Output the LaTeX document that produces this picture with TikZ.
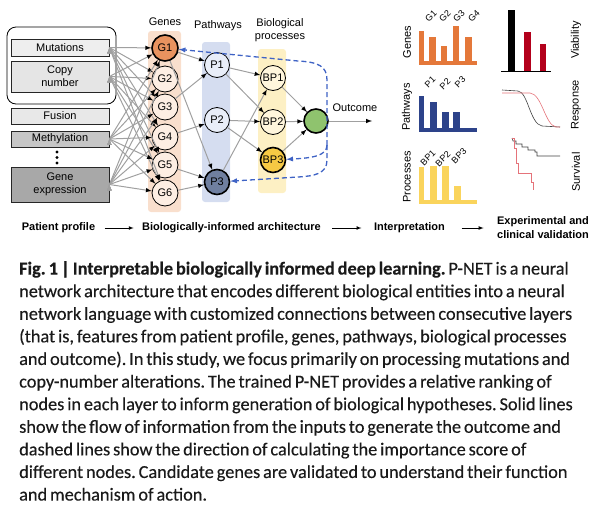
\documentclass[tikz,border=0pt]{standalone}
\usepackage{fontspec}
\setmainfont{Liberation Sans}
\newfontfamily\capfont[WordSpace=0.7,FakeBold=0.3]{Carlito}
\frenchspacing
\definecolor{genebg}{HTML}{F9DFCD}
\definecolor{genefill}{HTML}{FDEEE3}
\definecolor{gonefill}{HTML}{E9935F}
\definecolor{pwaybg}{HTML}{D5DDF0}
\definecolor{pwayfill}{HTML}{E8EDF8}
\definecolor{pthreefill}{HTML}{6F7FA0}
\definecolor{procbg}{HTML}{FDF0C4}
\definecolor{procfill}{HTML}{FFF6DC}
\definecolor{bpthreefill}{HTML}{F6C944}
\definecolor{outfill}{HTML}{8FC36E}
\definecolor{flowgray}{HTML}{A0A0A0}
\definecolor{impblue}{HTML}{3F63C5}
\definecolor{mutfill}{HTML}{EEEEEE}
\definecolor{cnvfill}{HTML}{E5E5E5}
\definecolor{fusfill}{HTML}{E8E8E8}
\definecolor{metfill}{HTML}{C6C6C6}
\definecolor{gexfill}{HTML}{A8A8A8}
\definecolor{orangebar}{HTML}{E4783A}
\definecolor{navybar}{HTML}{2D438A}
\definecolor{yellowbar}{HTML}{FAD45C}
\definecolor{vired}{HTML}{B3001B}
\definecolor{resred}{HTML}{E5737A}
\definecolor{capblack}{HTML}{1A1A1A}

\begin{document}
\begin{tikzpicture}[x=1pt,y=-1pt,every path/.style={>=latex},
  every node/.style={font=\fontsize{11}{13}\selectfont},
  inbox/.style={draw=black!85,line width=0.8pt,minimum width=98pt,align=center,inner sep=0pt},
  gene/.style={circle,draw,line width=0.8pt,minimum size=26pt,inner sep=0pt,fill=genefill},
  pway/.style={circle,draw,line width=0.8pt,minimum size=25pt,inner sep=0pt,fill=pwayfill},
  proc/.style={circle,draw,line width=0.8pt,minimum size=25pt,inner sep=0pt,fill=procfill},
  hot/.style={line width=1.6pt},
  flow/.style={->,draw=flowgray,line width=1pt},
  imp/.style={->,draw=impblue,line width=1.3pt,dash pattern=on 5pt off 3pt},
  stage/.style={font=\bfseries\fontsize{11}{14}\selectfont,align=center},
  stagearrow/.style={->,line width=0.7pt},
  barlbl/.style={rotate=45,font=\fontsize{9}{10}\selectfont,inner sep=0pt},
  sidelbl/.style={rotate=90,inner sep=0pt}]
\useasboundingbox (0,0) rectangle (595,512);

% layer backgrounds
\fill[genebg,rounded corners=3pt]  (148,31) rectangle (181,212);
\fill[pwaybg,rounded corners=3pt]  (202,42) rectangle (230,202);
\fill[procbg,rounded corners=3pt]  (258,49) rectangle (286,193);

% patient profile
\node[draw,line width=0.8pt,rounded corners=9pt,minimum width=109pt,minimum height=77pt] (grp) at (61.5,65.5) {};
\node[inbox,minimum height=17pt,fill=mutfill] (mut) at (60,47.5)  {Mutations};
\node[inbox,minimum height=31pt,fill=cnvfill] (cnv) at (60,76.5)  {Copy\\number};
\node[inbox,minimum height=16pt,fill=fusfill] (fus) at (60,116)   {Fusion};
\node[inbox,minimum height=16pt,fill=metfill] (met) at (60,139)   {Methylation};
\node[inbox,minimum height=35pt,fill=gexfill] (gex) at (60,184.5) {Gene\\expression};
\fill (57,152) circle (1.7pt) (57,157.5) circle (1.7pt) (57,163) circle (1.7pt);

% layers
\node[inner sep=1pt]             (genelbl) at (165,22)  { Genes };
\node[inner sep=1pt]             (pwaylbl) at (218,26)  { Pathways };
\node[inner sep=1pt,align=center](proclbl) at (280,30)  { Biological\\processes };
\node[gene,hot,fill=gonefill]    (g1) at (165,48)  { G1 };
\node[gene]                      (g2) at (165,79)  { G2 };
\node[gene]                      (g3) at (165,107) { G3 };
\node[gene]                      (g4) at (165,137) { G4 };
\node[gene]                      (g5) at (165,165) { G5 };
\node[gene]                      (g6) at (165,193) { G6 };
\node[pway]                      (p1) at (217,65)  { P1 };
\node[pway]                      (p2) at (217,120) { P2 };
\node[pway,hot,fill=pthreefill]  (p3) at (217,182) { P3 };
\node[proc]                      (bp1) at (273,78)  { BP1 };
\node[proc]                      (bp2) at (273,122) { BP2 };
\node[proc,hot,fill=bpthreefill] (bp3) at (273,160) { BP3 };
\node[circle,draw,hot,fill=outfill,minimum size=24pt] (outc) at (316,121) {};
\node[inner sep=1pt]             (outlbl) at (355,108) { Outcome };
\coordinate (outend) at (372,121);

% inputs to genes
\draw[flow] (mut.east) edge (g1);
\draw[flow] (mut.east) edge (g2);
\draw[flow] (mut.east) edge (g3);
\draw[flow] (mut.east) edge (g4);
\draw[flow] (mut.east) edge (g5);
\draw[flow] (mut.east) edge (g6);
\draw[flow] (cnv.east) edge (g1);
\draw[flow] (cnv.east) edge (g2);
\draw[flow] (cnv.east) edge (g3);
\draw[flow] (cnv.east) edge (g4);
\draw[flow] (cnv.east) edge (g5);
\draw[flow] (cnv.east) edge (g6);
\draw[flow] (met.east) edge (g1);
\draw[flow] (met.east) edge (g2);
\draw[flow] (met.east) edge (g3);
\draw[flow] (met.east) edge (g4);
\draw[flow] (met.east) edge (g5);
\draw[flow] (met.east) edge (g6);
\draw[flow] (gex.east) edge (g1);
\draw[flow] (gex.east) edge (g2);
\draw[flow] (gex.east) edge (g3);
\draw[flow] (gex.east) edge (g4);
\draw[flow] (gex.east) edge (g5);
\draw[flow] (gex.east) edge (g6);
% genes to pathways to processes
\draw[flow] (g1) edge (p1);
\draw[flow] (g1) edge (p3);
\draw[flow] (g3) edge (p1);
\draw[flow] (g4) edge (p2);
\draw[flow] (g5) edge (p3);
\draw[flow] (g6) edge (p3);
\draw[flow] (p1) edge (bp1);
\draw[flow] (p1) edge (bp2);
\draw[flow] (p2) edge (bp2);
\draw[flow] (p2) edge (bp3);
\draw[flow] (p3) edge (bp1);
\draw[flow] (bp1) edge (outc);
\draw[flow] (bp2) edge (outc);
\draw[flow] (bp3) edge (outc);
\draw[flow] (outc) edge (outend);

% importance scores
\coordinate (dtop) at (327,80);
\coordinate (dbot) at (327,145);
\draw[imp] (dbot) -- (dtop) .. controls (327,66) and (318,62) .. (298,61) -- (g1);
\draw[imp] (dbot) .. controls (327,156) and (312,158) .. (bp3);
\draw[imp] (dbot) -- (327,160) .. controls (327,174) and (314,176) .. (298,177) -- (p3);

% interpretation
\node[sidelbl] (genesax) at (407,42)  { Genes };
\node[sidelbl] (pwaysax) at (407,107) { Pathways };
\node[sidelbl] (procsax) at (407,177) { Processes };
\draw[orangebar,line width=4.5pt] (421.5,31) -- (421.5,63) -- (477,63);
\fill[orangebar] (429,37) rectangle (436,61);
\fill[orangebar] (441,46) rectangle (447,61);
\fill[orangebar] (453,26) rectangle (459,61);
\fill[orangebar] (465,37) rectangle (472,61);
\node[barlbl] at (431,16) { G1 };
\node[barlbl] at (445,16) { G2 };
\node[barlbl] at (459,16) { G3 };
\node[barlbl] at (474,16) { G4 };
\draw[navybar,line width=4.5pt] (421.5,96) -- (421.5,130) -- (477,130);
\fill[navybar] (430,102) rectangle (437,128);
\fill[navybar] (442,112) rectangle (449,128);
\fill[navybar] (453,112) rectangle (460,128);
\node[barlbl] at (430,82) { P1 };
\node[barlbl] at (445,84) { P2 };
\node[barlbl] at (460,82) { P3 };
\draw[yellowbar,line width=4.5pt] (421.5,167) -- (421.5,202) -- (477,202);
\fill[yellowbar] (430,166) rectangle (437,200);
\fill[yellowbar] (442,166) rectangle (449,200);
\fill[yellowbar] (454,186) rectangle (461,200);
\node[barlbl] at (428,158) { BP1 };
\node[barlbl] at (443,159) { BP2 };
\node[barlbl] at (459,156) { BP3 };

% validation
\node[sidelbl] (vialbl) at (576,40)  { Viability };
\node[sidelbl] (reslbl) at (576,105) { Response };
\node[sidelbl] (surlbl) at (576,172) { Survival };
\draw[line width=0.8pt] (501,71) -- (551,71);
\fill (508,10) rectangle (515,71);
\fill[vired] (524,32) rectangle (531,71);
\fill[vired] (540,44) rectangle (546,71);
\draw[black!75,line width=0.6pt] (502,90) -- (518,91) .. controls (528,92) and (530,124) .. (542,126) -- (560,127);
\draw[resred,line width=0.6pt] (502,93) -- (530,93) .. controls (542,94) and (545,125) .. (556,127) -- (560,127);
\draw[black!75,line width=0.6pt] (512,138) -- (513,141) -- (516,141) -- (516,144) -- (522,144) -- (522,147)
  -- (528,147) -- (528,150) -- (535,150) -- (535,152) -- (537,152) -- (537,156) -- (560,156);
\draw[resred,line width=0.6pt] (512,138) -- (514,138) -- (514,148) -- (516,148) -- (516,163) -- (518,163)
  -- (518,173) -- (531,173) -- (531,182) -- (533,182) -- (533,190);

% stages
\node[stage] (pat)    at (60,228)  { Patient profile };
\node[stage] (arch)   at (233,228) { Biologically-informed architecture };
\node[stage] (interp) at (411,228) { Interpretation };
\node[stage] (valid)  at (543,228) { Experimental and\\clinical validation };
\draw[stagearrow,shorten <=3pt,shorten >=5pt]  (pat)    -- (arch);
\draw[stagearrow,shorten <=5pt,shorten >=9pt]  (arch)   -- (interp);
\draw[stagearrow,shorten <=10pt,shorten >=10pt] (interp) -- (valid);

% caption
\node[anchor=north west,align=left,inner sep=0pt,text=capblack,
  font=\capfont\fontsize{18.3}{22.6}\selectfont] (cap) at (19,261) {%
\textbf{Fig.\,1\,|\,Interpretable biologically informed deep learning.} P-NET is a neural\\
network architecture that encodes different biological entities into a neural\\
network language with customized connections between consecutive layers\\
(that is, features from patient profile, genes, pathways, biological processes\\
and outcome). In this study, we focus primarily on processing mutations and\\
copy-number alterations. The trained P-NET provides a relative ranking of\\
nodes in each layer to inform generation of biological hypotheses. Solid lines\\
show the flow of information from the inputs to generate the outcome and\\
dashed lines show the direction of calculating the importance score of\\
different nodes. Candidate genes are validated to understand their function\\
and mechanism of action.};
\end{tikzpicture}
\end{document}
